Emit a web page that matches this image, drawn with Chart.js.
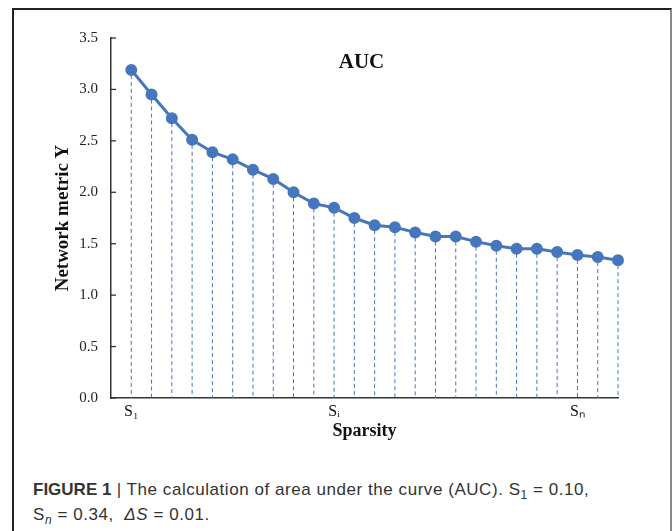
<!DOCTYPE html>
<html lang="en">
<head>
	<meta charset="UTF-8">
	<title>AUC</title>
	<script src="https://cdn.jsdelivr.net/npm/chart.js"></script>
	<style>
		body { margin: 0; background: #fff; width: 672px; height: 531px; overflow: hidden; position: relative; }
		#frame { position: absolute; left: 12px; top: 8px; width: 656px; height: 540px;
			border-top: 2px solid #222; border-left: 2px solid #222; border-right: 2px solid #888; }
		#box { position: absolute; left: 0; top: 0; width: 656px; height: 440px; }
		#caption { position: absolute; left: 19px; top: 467px; font-family: "Liberation Sans", Arial, sans-serif;
			font-size: 17px; line-height: 25px; color: #333; white-space: nowrap; letter-spacing: 0.55px; }
		#caption b { letter-spacing: 0; }
		#caption sub { font-size: 12px; line-height: 0; }
	</style>
</head>
<body>
	<div id="frame">
		<div id="box"><canvas id="chart"></canvas></div>
		<div id="caption"><b>FIGURE 1</b> | The calculation of area under the curve (AUC). S<sub>1</sub> = 0.10,<br>S<sub><i>n</i></sub> = 0.34,&nbsp; <i>ΔS</i> = 0.01.</div>
	</div>
	<script>
		const sparsity = [0.10, 0.11, 0.12, 0.13, 0.14, 0.15, 0.16, 0.17, 0.18, 0.19, 0.20, 0.21, 0.22,
			0.23, 0.24, 0.25, 0.26, 0.27, 0.28, 0.29, 0.30, 0.31, 0.32, 0.33, 0.34];
		const metricY = [3.19, 2.95, 2.72, 2.51, 2.39, 2.32, 2.22, 2.13, 2.00, 1.89, 1.85, 1.75, 1.68,
			1.66, 1.61, 1.57, 1.57, 1.52, 1.48, 1.45, 1.45, 1.42, 1.39, 1.37, 1.34];
		const xTickValues = [0.10, 0.20, 0.32];
		const xTickLabels = ['S₁', 'Sᵢ', 'Sₙ'];
		const yTicks = [0, 0.5, 1.0, 1.5, 2.0, 2.5, 3.0, 3.5];
		const chartTitle = 'AUC';

		const blue = '#4676bd';
		const serif = '"Liberation Serif", "Times New Roman", serif';

		// dashed drops from every point to the x axis, inward y ticks, and the title inside the plot
		const auc = {
			id: 'auc',
			beforeDatasetsDraw(chart) {
				const c = chart.ctx;
				const y0 = chart.scales.y.getPixelForValue(0);
				c.save();
				c.strokeStyle = blue;
				c.lineWidth = 1;
				c.setLineDash([4, 3]);
				chart.getDatasetMeta(0).data.forEach(p => {
					c.beginPath();
					c.moveTo(p.x, p.y + 5);
					c.lineTo(p.x, y0);
					c.stroke();
				});
				c.restore();
			},
			afterDraw(chart) {
				const c = chart.ctx;
				const a = chart.chartArea;
				const ys = chart.scales.y;
				c.save();
				c.strokeStyle = '#333';
				c.lineWidth = 1.3;
				ys.ticks.forEach(t => {
					const y = ys.getPixelForValue(t.value);
					c.beginPath();
					c.moveTo(a.left, y);
					c.lineTo(a.left + 5, y);
					c.stroke();
				});
				c.fillStyle = '#111';
				c.font = 'bold 21px ' + serif;
				c.textAlign = 'center';
				c.textBaseline = 'middle';
				c.fillText(chartTitle, (a.left + a.right) / 2 - 3, a.top + 25);
				c.restore();
			}
		};

		const ctx = document.getElementById('chart');
		new Chart(ctx, {
			type: 'line',
			data: {
				datasets: [{
					data: sparsity.map((s, i) => ({ x: s, y: metricY[i] })),
					borderColor: blue,
					backgroundColor: blue,
					borderWidth: 3,
					pointRadius: 4.5,
					pointHoverRadius: 4.5,
					tension: 0,
					clip: false
				}]
			},
			options: {
				responsive: true,
				maintainAspectRatio: false,
				animation: false,
				layout: { padding: { left: 34, top: 28, right: 52, bottom: 4 } },
				plugins: { legend: { display: false }, tooltip: { enabled: false } },
				scales: {
					x: {
						type: 'linear',
						min: 0.09,
						max: 0.34,
						afterBuildTicks: s => { s.ticks = xTickValues.map(v => ({ value: v })); },
						afterFit: s => { s.height = 48; },
						grid: { drawOnChartArea: false, drawTicks: false },
						border: { color: '#333', width: 1.5 },
						ticks: {
							padding: 4,
							color: '#111',
							font: { family: serif, size: 16 },
							callback: v => xTickLabels[xTickValues.findIndex(t => Math.abs(t - v) < 1e-6)]
						},
						title: {
							display: true,
							text: 'Sparsity',
							color: '#111',
							font: { family: serif, size: 18, weight: 'bold' },
							padding: { top: 0, bottom: 4 }
						}
					},
					y: {
						min: 0,
						max: 3.5,
						afterBuildTicks: s => { s.ticks = yTicks.map(v => ({ value: v })); },
						afterFit: s => { s.width = 63; },
						grid: { drawOnChartArea: false, drawTicks: false },
						border: { color: '#333', width: 1.5 },
						ticks: {
							padding: 13,
							color: '#222',
							font: { family: serif, size: 15 },
							callback: v => v.toFixed(1)
						},
						title: {
							display: true,
							text: 'Network metric Y',
							color: '#111',
							font: { family: serif, size: 19, weight: 'bold' },
							padding: { top: 4, bottom: 0 }
						}
					}
				}
			},
			plugins: [auc]
		});
	</script>
</body>
</html>
